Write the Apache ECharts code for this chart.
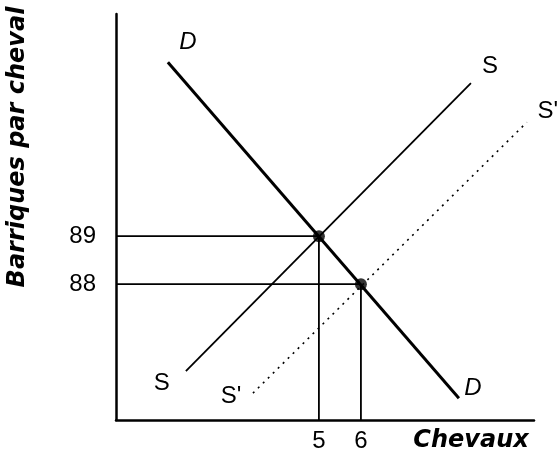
<!DOCTYPE html>
<html>
<head>
<meta charset="utf-8">
<script src="https://cdn.jsdelivr.net/npm/echarts@6/dist/echarts.min.js"></script>
<style>
  html, body { margin: 0; padding: 0; background: #fff; }
  #chart { width: 560px; height: 461px; }
</style>
</head>
<body>
<div id="chart"></div>
<script>
// axes range (chevaux / barriques par cheval)
var xMin = 0.17, xMax = 10.12;
var yMin = 85.17, yMax = 93.63;

// tick labels shown on the axes
var xTicks = [5, 6];
var yTicks = [88, 89];

// demand and supply curves (end points)
var demandD = [[1.405, 92.625], [8.333, 85.625]];
var supplyS = [[1.833, 86.19], [8.619, 92.19]];
var supplyS2 = [[3.43, 85.73], [9.95, 91.375]];

// equilibria
var equilibria = [[5, 89], [6, 88]];

// curve names at both ends
var curveNames = [
  { name: 'D', curve: demandD, italic: true },
  { name: 'S', curve: supplyS, italic: false },
  { name: "S'", curve: supplyS2, italic: false }
];
// pixel offsets of the name from each end [start, end]
var nameOffsets = {
  'D': [[20, -20], [14, -10]],
  'S': [[-24, 12], [19, -17]],
  "S'": [[-22, 3], [21, -11]]
};

var labelData = [];
curveNames.forEach(function (c) {
  c.curve.forEach(function (pt, i) {
    labelData.push({
      value: pt,
      label: {
        show: true,
        formatter: c.name,
        position: 'inside',
        offset: nameOffsets[c.name][i],
        color: '#000',
        opacity: 1,
        fontStyle: c.italic ? 'italic' : 'normal'
      }
    });
  });
});

// dropped lines from each equilibrium to the axes
var guides = equilibria.map(function (p) {
  return [[xMin, p[1]], [p[0], p[1]], [p[0], yMin]];
});

var chart = echarts.init(document.getElementById('chart'));

var lineSeries = function (data, width, type) {
  return {
    type: 'line',
    data: data,
    symbol: 'none',
    silent: true,
    animation: false,
    lineStyle: { color: '#000', width: width, type: type || 'solid' }
  };
};

var series = [
  lineSeries(guides[0], 1.8),
  lineSeries(guides[1], 1.8),
  lineSeries(demandD, 3),
  lineSeries(supplyS, 1.8),
  lineSeries(supplyS2, 1.6, [2, 5]),
  {
    type: 'scatter',
    data: equilibria,
    symbolSize: 12,
    itemStyle: { color: '#000' },
    animation: false
  },
  {
    type: 'scatter',
    data: labelData,
    symbolSize: 1,
    silent: true,
    itemStyle: { color: '#fff' },
    label: {
      color: '#000',
      fontFamily: 'Liberation Sans',
      fontSize: 24
    },
    animation: false
  }
];

chart.setOption({
  backgroundColor: '#fff',
  animation: false,
  grid: { left: 116, top: 14, right: 26, bottom: 41 },
  xAxis: {
    type: 'value',
    min: xMin,
    max: xMax,
    splitLine: { show: false },
    axisLine: { lineStyle: { color: '#000', width: 2.5 } },
    axisTick: { show: false },
    axisLabel: {
      customValues: xTicks,
      margin: 9,
      color: '#000',
      fontFamily: 'Liberation Sans',
      fontSize: 24
    }
  },
  yAxis: {
    type: 'value',
    min: yMin,
    max: yMax,
    splitLine: { show: false },
    axisLine: { lineStyle: { color: '#000', width: 2.5 } },
    axisTick: { show: false },
    axisLabel: {
      customValues: yTicks,
      margin: 20,
      color: '#000',
      fontFamily: 'Liberation Sans',
      fontSize: 24
    }
  },
  graphic: [
    {
      type: 'text',
      x: 18, y: 147,
      rotation: Math.PI / 2,
      style: {
        text: 'Barriques par cheval',
        fontFamily: 'DejaVu Sans',
        fontWeight: 'bold',
        fontStyle: 'italic',
        fontSize: 24,
        fill: '#000',
        align: 'center',
        verticalAlign: 'middle'
      }
    },
    {
      type: 'text',
      x: 471, y: 441,
      style: {
        text: 'Chevaux',
        fontFamily: 'DejaVu Sans',
        fontWeight: 'bold',
        fontStyle: 'italic',
        fontSize: 24,
        fill: '#000',
        align: 'center',
        verticalAlign: 'middle'
      }
    }
  ],
  series: series
});
</script>
</body>
</html>
